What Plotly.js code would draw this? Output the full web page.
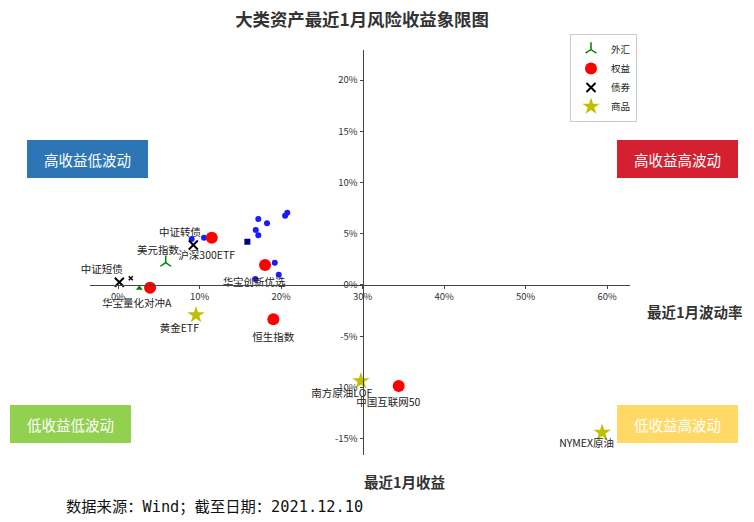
<!DOCTYPE html>
<html>
<head>
<meta charset="utf-8">
<script src="https://cdn.plot.ly/plotly-3.0.1.min.js"></script>
<style>html,body{margin:0;padding:0;background:#fff;}#chart{width:754px;height:522px;}</style>
</head>
<body>
<div id="chart"></div>
<script>
// ---- data (percent) ----
const fxNames = ['美元指数'];
const fxX = [5.85];
const fxY = [2.18];

const eqNames = ['沪深300ETF', '华宝创新优选', '华宝量化对冲A', '恒生指数', '中国互联网50'];
const eqX = [11.5, 18.04, 3.93, 19.06, 34.44];
const eqY = [4.61, 1.95, -0.26, -3.35, -9.85];

const bondNames = ['中证转债', '中证短债'];
const bondX = [9.24, 0.16];
const bondY = [3.9, 0.26];

const cmdNames = ['黄金ETF', '南方原油LOF', 'NYMEX原油'];
const cmdX = [9.57, 29.8, 59.4];
const cmdY = [-2.93, -9.37, -14.4];

const otherX = [9.04, 10.55, 17.21, 18.28, 16.9, 17.21, 20.5, 20.77, 19.23, 19.72, 16.85];
const otherY = [4.49, 4.61, 6.44, 6.02, 5.37, 4.85, 6.76, 7.05, 2.18, 1.0, 0.59];
const squareX = [15.87];
const squareY = [4.22];
const smallXX = [1.56];
const smallXY = [0.65];
const smallTriX = [2.61];
const smallTriY = [-0.32];

const labelNames = ['中证转债', '沪深300ETF', '美元指数', '中证短债', '华宝量化对冲A', '黄金ETF', '华宝创新优选', '恒生指数', '南方原油LOF', '中国互联网50', 'NYMEX原油'];
const labelX = [7.6, 10.88, 4.9, -2.0, 2.29, 7.52, 16.7, 19.06, 27.45, 33.17, 57.5];
const labelY = [5.07, 2.76, 3.32, 1.4, -1.9, -4.29, 0.2, -5.2, -10.63, -11.6, -15.6];

const xTicks = [0, 10, 20, 30, 40, 50, 60];
const yTicks = [-15, -10, -5, 0, 5, 10, 15, 20];

const quadLabels = ['高收益低波动', '高收益高波动', '低收益低波动', '低收益高波动'];
const quadColors = ['#2e75b6', '#d42030', '#92d050', '#ffd966'];

const titleText = '大类资产最近1月风险收益象限图';
const xTitle = '最近1月波动率';
const yTitle = '最近1月收益';
const sourceText = '数据来源：Wind；截至日期：2021.12.10';

// ---- layout geometry ----
const W = 754, H = 522;
const L = 90, R = 124, T = 50, B = 67;
const xRange = [-3.44, 62.82];
const yRange = [-16.59, 22.93];
const px2paperX = p => (p - L) / (W - L - R);
const py2paperY = p => (H - B - p) / (H - T - B);

const cjk = 'Noto Sans CJK SC, Noto Sans, sans-serif';

const traces = [
  {x: otherX, y: otherY, mode: 'markers', type: 'scatter', showlegend: false,
   marker: {color: '#1a1aff', size: 6}, hoverinfo: 'skip'},
  {x: squareX, y: squareY, mode: 'markers', type: 'scatter', showlegend: false,
   marker: {color: '#000080', size: 6, symbol: 'square'}},
  {x: smallXX, y: smallXY, mode: 'markers', type: 'scatter', showlegend: false,
   marker: {size: 4, symbol: 'x-thin', line: {color: '#000', width: 1.5}}},
  {x: smallTriX, y: smallTriY, mode: 'markers', type: 'scatter', showlegend: false,
   marker: {color: '#008000', size: 6, symbol: 'triangle-up'}},
  {x: fxX, y: fxY, text: fxNames, name: '外汇', mode: 'markers', type: 'scatter',
   marker: {size: 9, symbol: 'y-up', line: {color: '#008000', width: 1.5}}},
  {x: eqX, y: eqY, text: eqNames, name: '权益', mode: 'markers', type: 'scatter',
   marker: {color: '#ff0000', size: 12}},
  {x: bondX, y: bondY, text: bondNames, name: '债券', mode: 'markers', type: 'scatter',
   marker: {size: 9, symbol: 'x-thin', line: {color: '#000', width: 2}}},
  {x: cmdX, y: cmdY, text: cmdNames, name: '商品', mode: 'markers', type: 'scatter',
   marker: {color: '#bfbf00', size: 13, symbol: 'star'}},
  {x: labelX, y: labelY, text: labelNames, mode: 'text', type: 'scatter', showlegend: false,
   cliponaxis: false,
   textfont: {family: cjk, size: 10.5, color: '#222'}, textposition: 'middle center'}
];

const shapes = [];
const annotations = [];
const boxes = [
  [27, 148, 140, 178],
  [617, 738, 140, 178],
  [10, 131, 405, 443],
  [617, 738, 405, 443]
];
boxes.forEach((b, i) => {
  shapes.push({type: 'rect', xref: 'paper', yref: 'paper',
    x0: px2paperX(b[0]), x1: px2paperX(b[1]), y0: py2paperY(b[3]), y1: py2paperY(b[2]),
    fillcolor: quadColors[i], line: {width: 0}, layer: 'above'});
  annotations.push({xref: 'paper', yref: 'paper', x: px2paperX((b[0] + b[1]) / 2),
    y: py2paperY((b[2] + b[3]) / 2), text: quadLabels[i], showarrow: false,
    xanchor: 'center', yanchor: 'middle', font: {family: cjk, size: 14.5, color: '#fff'}});
});
annotations.push({xref: 'paper', yref: 'paper', x: px2paperX(695), y: py2paperY(311),
  text: '<b>' + xTitle + '</b>', showarrow: false, xanchor: 'center', yanchor: 'middle',
  font: {family: cjk, size: 14.5, color: '#333'}});
annotations.push({xref: 'paper', yref: 'paper', x: px2paperX(404), y: py2paperY(481),
  text: '<b>' + yTitle + '</b>', showarrow: false, xanchor: 'center', yanchor: 'middle',
  font: {family: cjk, size: 14.5, color: '#333'}});
annotations.push({xref: 'paper', yref: 'paper', x: px2paperX(64), y: py2paperY(507),
  text: sourceText, showarrow: false, xanchor: 'left', yanchor: 'middle',
  font: {family: 'DejaVu Sans Mono, Noto Sans CJK SC, monospace', size: 15.3, color: '#111'}});

const layout = {
  width: W, height: H,
  margin: {l: L, r: R, t: T, b: B},
  paper_bgcolor: '#fff', plot_bgcolor: 'rgba(0,0,0,0)',
  title: {text: '<b>' + titleText + '</b>', x: 362 / W, xanchor: 'center', y: 1 - 20 / H, yanchor: 'middle',
    font: {family: cjk, size: 17.4, color: '#333'}},
  xaxis: {range: xRange, anchor: 'free', position: (0 - yRange[0]) / (yRange[1] - yRange[0]),
    showline: true, linecolor: '#444', linewidth: 1, showgrid: false, zeroline: false,
    ticks: 'outside', ticklen: 3, tickcolor: '#444', tickvals: xTicks, ticktext: xTicks.map(v => v + '%'),
    tickfont: {family: cjk, size: 9.5, color: '#333'}},
  yaxis: {range: yRange, anchor: 'free', position: (30 - xRange[0]) / (xRange[1] - xRange[0]),
    showline: true, linecolor: '#444', linewidth: 1, showgrid: false, zeroline: false,
    ticks: 'outside', ticklen: 3, tickcolor: '#444', tickvals: yTicks, ticktext: yTicks.map(v => v + '%'),
    tickfont: {family: cjk, size: 9.5, color: '#333'}},
  legend: {x: px2paperX(570), y: py2paperY(34), xanchor: 'left', yanchor: 'top',
    bgcolor: '#fff', bordercolor: '#ccc', borderwidth: 1,
    font: {family: cjk, size: 9.5, color: '#222'}},
  shapes: shapes,
  annotations: annotations,
  showlegend: true
};

Plotly.newPlot('chart', traces, layout, {displayModeBar: false, staticPlot: true});
</script>
</body>
</html>
